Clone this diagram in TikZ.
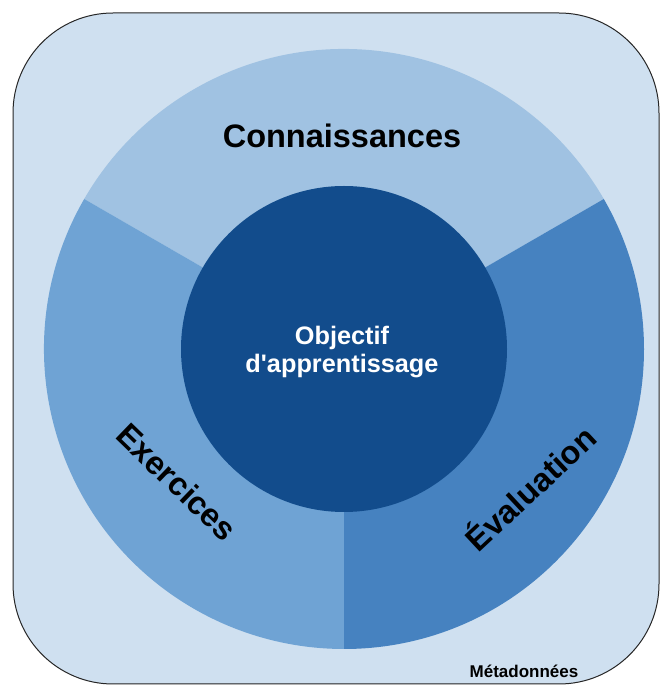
\documentclass[tikz,border=0pt]{standalone}
\usepackage{fontspec}
\setmainfont{Liberation Sans}
\definecolor{fondbleu}{RGB}{207,224,240}
\definecolor{connbleu}{RGB}{160,194,226}
\definecolor{exbleu}{RGB}{111,163,212}
\definecolor{evalbleu}{RGB}{70,130,192}
\definecolor{objbleu}{RGB}{18,76,140}

\begin{document}
\begin{tikzpicture}[x=1pt,y=1pt,
  titre/.style={font=\fontsize{32.5}{36}\selectfont\bfseries,inner sep=0pt},
  petit/.style={font=\fontsize{17}{20}\selectfont\bfseries,inner sep=0pt}]
\useasboundingbox (0,0) rectangle (662,686);
\draw[fill=fondbleu,draw=black!85,line width=1pt,rounded corners=100pt] (13,2) rectangle (659,673);
\coordinate (c) at (344,337);
\fill[connbleu] (c) -- ++(30:300) arc[start angle=30,end angle=150,radius=300] -- cycle;
\fill[exbleu] (c) -- ++(150:300) arc[start angle=150,end angle=270,radius=300] -- cycle;
\fill[evalbleu] (c) -- ++(270:300) arc[start angle=270,end angle=390,radius=300] -- cycle;
\fill[objbleu] (c) circle[radius=163];
\node[titre,anchor=base] (conn) at (342,538) {Connaissances};
\node[titre,rotate=-44] (ex) at (177,204) {Exercices};
\node[titre,rotate=43] (eval) at (529,199) {Évaluation};
\node[align=center,text=white,inner sep=0pt,font=\fontsize{25.3}{28}\selectfont\bfseries] (obj) at (342,334) {Objectif\\d\textquotesingle apprentissage};
\node[petit,anchor=base] (meta) at (524,9) {Métadonnées};
\end{tikzpicture}
\end{document}
